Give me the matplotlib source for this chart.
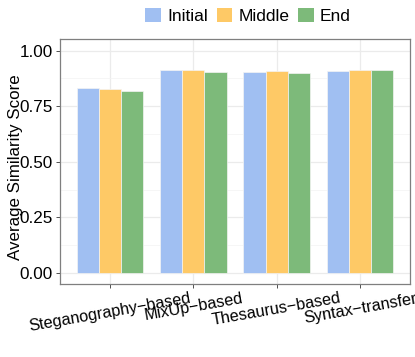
import numpy as np
import matplotlib
matplotlib.use('Agg')
import matplotlib.pyplot as plt
from matplotlib.patches import Patch

plt.rcParams['font.family'] = ['Liberation Sans', 'DejaVu Sans']

methods = ['Steganography\u2212based', 'MixUp\u2212based', 'Thesaurus\u2212based', 'Syntax\u2212transfer']
stages = ['Initial', 'Middle', 'End']
initial = [0.832, 0.912, 0.903, 0.907]
middle = [0.828, 0.913, 0.906, 0.912]
end = [0.816, 0.904, 0.898, 0.913]
colors = ['#a0bff2', '#fec966', '#7dba7a']

fig = plt.figure(figsize=(4.15, 3.57), dpi=100)
ax = fig.add_axes([60 / 415, 1 - 284 / 357, 350 / 415, 245 / 357])

x = np.arange(1, len(methods) + 1)
w = 0.8 / 3
for i, (vals, c) in enumerate(zip([initial, middle, end], colors)):
    ax.bar(x + (i - 1) * w, vals, width=w, color=c, edgecolor='#f4f4f4',
           linewidth=0.5, zorder=3)

ax.set_xlim(0.4, 4.6)
ax.set_ylim(-0.05, 1.052)
ax.set_yticks([0, 0.25, 0.5, 0.75, 1.0])
ax.set_yticklabels(['0.00', '0.25', '0.50', '0.75', '1.00'], fontsize=12.3)
ax.set_yticks([0.125, 0.375, 0.625, 0.875], minor=True)
ax.set_xticks(x)
ax.set_xticklabels(methods, rotation=10, ha='center', fontsize=11.7)
ax.grid(True, which='major', color='#ebebeb', linewidth=0.9, zorder=0)
ax.grid(True, which='minor', axis='y', color='#f3f3f3', linewidth=0.5, zorder=0)
ax.tick_params(which='major', length=3, color='#333333', width=0.6,
               labelcolor='black', pad=2)
ax.tick_params(which='minor', length=0)
for s in ax.spines.values():
    s.set_color('#7f7f7f')
    s.set_linewidth(0.9)
ax.set_ylabel('Average Similarity Score', fontsize=12.2)
ax.yaxis.set_label_coords(-37 / 350, 0.4755)

handles = [Patch(facecolor=c, label=s) for c, s in zip(colors, stages)]
fig.legend(handles=handles, loc='center', bbox_to_anchor=(248 / 415, 1 - 16 / 357),
           ncol=3, frameon=False, fontsize=12.5, handlelength=0.9, handleheight=0.9,
           handletextpad=0.35, columnspacing=0.5, borderaxespad=0)

fig.savefig('out.png', dpi=100)
